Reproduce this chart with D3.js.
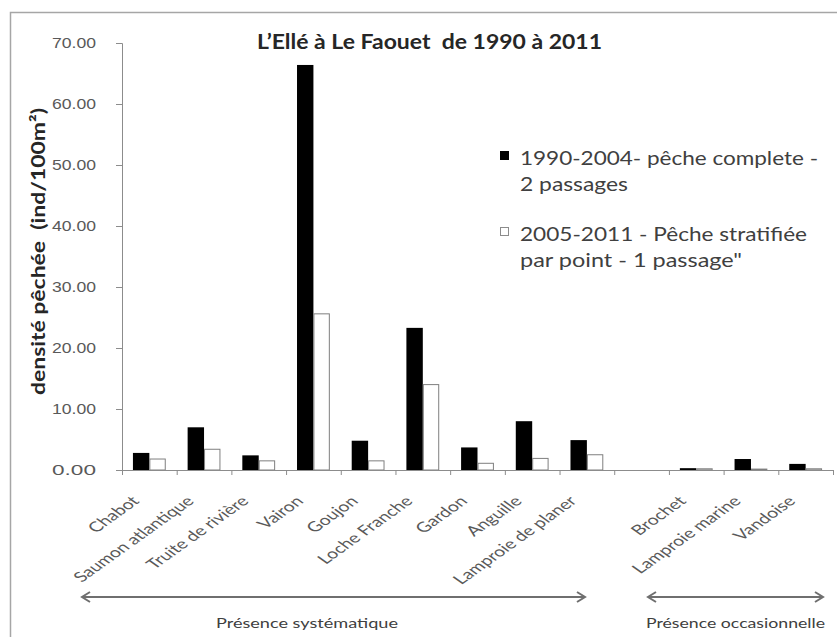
<!DOCTYPE html>
<html>
<head>
<meta charset="utf-8">
<script src="https://cdn.jsdelivr.net/npm/d3@7"></script>
<style>
  body { margin: 0; background: #fff; }
  svg { display: block; font-family: Lato, "Open Sans", sans-serif; }
</style>
</head>
<body>
<div id="chart"></div>
<script>
// data
var categories = ["Chabot", "Saumon atlantique", "Truite de rivière", "Vairon", "Goujon",
  "Loche Franche", "Gardon", "Anguille", "Lamproie de planer", "",
  "Brochet", "Lamproie marine", "Vandoise"];
var seriesNames = ["1990-2004- pêche complete - 2 passages",
  "2005-2011 - Pêche stratifiée par point - 1 passage\""];
var complete = [2.8, 7.0, 2.4, 66.4, 4.8, 23.3, 3.7, 8.0, 4.9, null, 0.3, 1.8, 1.0];
var stratified = [1.8, 3.4, 1.5, 25.6, 1.5, 14.0, 1.1, 1.9, 2.5, null, 0.2, 0.15, 0.2];
var yTicks = [0, 10, 20, 30, 40, 50, 60, 70];
var groups = ["Présence systématique", "Présence occasionnelle"];

var width = 837, height = 637;
var margin = {top: 43, left: 122, right: 4, bottom: 167};
var axisGray = "#8c8c8c", textGray = "#595959";

var svg = d3.select("#chart").append("svg")
    .attr("width", width)
    .attr("height", height);

// frame of the picture (top and left edges only visible)
svg.append("path")
    .attr("d", "M10.5," + height + "V12.5H" + width)
    .attr("fill", "none")
    .attr("stroke", "#a6a6a6")
    .attr("stroke-width", 1.5);

var x0 = d3.scaleBand()
    .domain(categories)
    .range([margin.left, width - margin.right])
    .paddingInner(0.4)
    .paddingOuter(0.2);
var x1 = d3.scaleBand()
    .domain([0, 1])
    .range([0, x0.bandwidth()]);
var xb = d3.scaleLinear()
    .domain([0, categories.length])
    .range([margin.left, width - margin.right]);
var y = d3.scaleLinear()
    .domain([0, 70])
    .range([height - margin.bottom, margin.top]);

// y axis
var yAxis = svg.append("g")
    .attr("transform", "translate(" + margin.left + ",0)")
    .call(d3.axisLeft(y).tickValues(yTicks).tickFormat(d3.format(".2f")).tickSize(6).tickPadding(20));
yAxis.select(".domain").attr("stroke", axisGray);
yAxis.selectAll(".tick line").attr("stroke", axisGray);
yAxis.selectAll("text")
    .attr("fill", textGray)
    .attr("textLength", 44)
    .attr("lengthAdjust", "spacingAndGlyphs")
    .style("font-size", "15px");

// bars
var rows = categories.map(function(c, i) { return {cat: c, vals: [complete[i], stratified[i]]}; });
var cells = svg.append("g").selectAll("g")
    .data(rows.filter(function(d) { return d.cat !== ""; }))
    .join("g")
    .attr("transform", function(d) { return "translate(" + x0(d.cat) + ",0)"; });
cells.selectAll("rect")
    .data(function(d) { return d.vals.map(function(v, k) { return {k: k, v: v}; }); })
    .join("rect")
    .attr("x", function(d) { return x1(d.k) + (d.k === 1 ? 0.5 : 0); })
    .attr("width", function(d) { return x1.bandwidth() - (d.k === 1 ? 1 : 0); })
    .attr("y", function(d) { return y(d.v); })
    .attr("height", function(d) { return y(0) - y(d.v); })
    .attr("fill", function(d) { return d.k === 0 ? "#000" : "#fff"; })
    .attr("stroke", function(d) { return d.k === 0 ? "none" : "#7f7f7f"; })
    .attr("stroke-width", 1);

// x axis with ticks at category boundaries
var xAxis = svg.append("g")
    .attr("transform", "translate(0," + y(0) + ")")
    .call(d3.axisBottom(xb).tickValues(d3.range(categories.length + 1)).tickFormat("").tickSize(5).tickSizeOuter(0));
xAxis.select(".domain").attr("stroke", axisGray);
xAxis.selectAll(".tick line").attr("stroke", axisGray);

// category labels (the picture is stretched sideways, hence the scale)
svg.append("g").selectAll("text")
    .data(categories)
    .join("text")
    .attr("transform", function(c) {
      return "translate(" + (x0(c) + x0.bandwidth() / 2 - 9) + "," + (y(0) + 32) + ") scale(1.4,1) rotate(-45)";
    })
    .attr("text-anchor", "end")
    .attr("fill", textGray)
    .style("font-size", "14px")
    .text(function(c) { return c; });

// presence arrows
var arrowSpans = [[82, 585], [648, 823]];
var arrowY = 597;
var arrows = svg.append("g").selectAll("g")
    .data(groups)
    .join("g");
arrows.append("path")
    .attr("d", function(g, i) {
      var a = arrowSpans[i][0], b = arrowSpans[i][1];
      return "M" + a + "," + arrowY + "H" + b +
        "M" + (a + 8) + "," + (arrowY - 5) + "L" + a + "," + arrowY + "L" + (a + 8) + "," + (arrowY + 5) +
        "M" + (b - 8) + "," + (arrowY - 5) + "L" + b + "," + arrowY + "L" + (b - 8) + "," + (arrowY + 5);
    })
    .attr("fill", "none")
    .attr("stroke", "#6f6f6f")
    .attr("stroke-width", 2);
arrows.append("text")
    .attr("x", function(g, i) { return i === 0 ? 216 : 646; })
    .attr("y", 628)
    .attr("fill", "#404040")
    .attr("textLength", function(g, i) { return i === 0 ? 182 : 179; })
    .attr("lengthAdjust", "spacingAndGlyphs")
    .style("font-size", "14px")
    .text(function(g) { return g; });

// title
svg.append("text")
    .attr("x", 257)
    .attr("y", 49)
    .attr("fill", "#262626")
    .attr("textLength", 345)
    .attr("lengthAdjust", "spacingAndGlyphs")
    .style("font-size", "20px")
    .style("font-weight", "bold")
    .style("white-space", "pre")
    .text("L\u2019Ellé à Le Faouet  de 1990 à 2011");

// y axis title
svg.append("text")
    .attr("transform", "translate(45,395) rotate(-90)")
    .attr("fill", "#262626")
    .attr("textLength", 287)
    .attr("lengthAdjust", "spacingAndGlyphs")
    .style("font-size", "19px")
    .style("font-weight", "bold")
    .style("white-space", "pre")
    .text("densité pêchée  (ind/100m²)");

// legend
var legendLines = [["1990-2004- pêche complete -", "2 passages"],
  ["2005-2011 - Pêche stratifiée", "par point - 1 passage\""]];
var legendWidths = [[298, 108], [287, 222]];
var legend = svg.append("g").selectAll("g")
    .data(seriesNames)
    .join("g")
    .attr("transform", function(d, i) { return "translate(500," + (151 + i * 76) + ")"; });
legend.append("rect")
    .attr("x", 0.5).attr("y", 0.5)
    .attr("width", 8).attr("height", 8)
    .attr("fill", function(d, i) { return i === 0 ? "#000" : "#fff"; })
    .attr("stroke", function(d, i) { return i === 0 ? "#000" : "#8c8c8c"; });
legend.each(function(d, i) {
  d3.select(this).selectAll("text")
    .data(legendLines[i])
    .join("text")
    .attr("x", 20)
    .attr("y", function(t, j) { return 14 + j * 26; })
    .attr("fill", "#404040")
    .attr("textLength", function(t, j) { return legendWidths[i][j]; })
    .attr("lengthAdjust", "spacingAndGlyphs")
    .style("font-size", "20px")
    .text(function(t) { return t; });
});
</script>
</body>
</html>
